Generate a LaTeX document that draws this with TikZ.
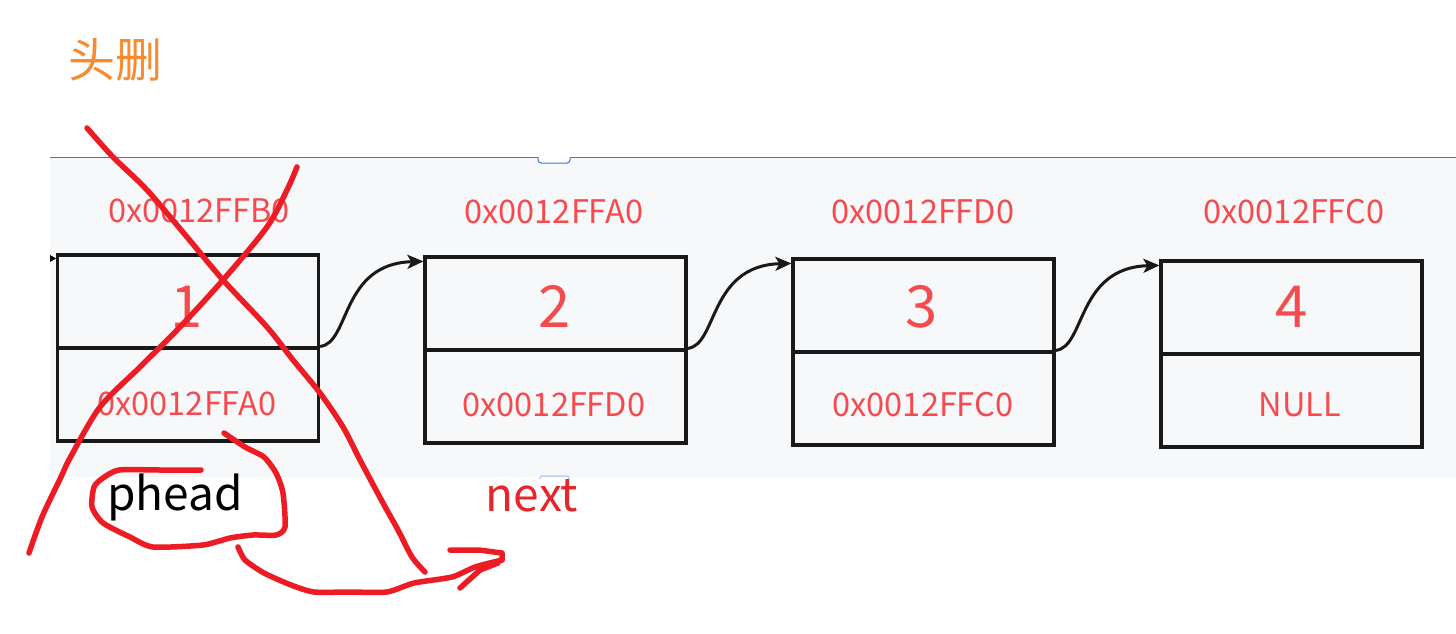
\documentclass[tikz,border=0pt]{standalone}
\usepackage{fontspec}
\setmainfont{Noto Sans CJK SC}
\usetikzlibrary{arrows.meta}
\definecolor{panelgray}{HTML}{F7F8FA}
\definecolor{uiblue}{HTML}{3D74E0}
\definecolor{addrred}{HTML}{F54B4E}
\definecolor{penred}{HTML}{ED1C24}
\definecolor{nextred}{HTML}{E5262B}
\definecolor{titleorange}{HTML}{F88A30}
\tikzset{
  cell/.style={draw=black!90, line width=3.2pt, minimum width=261pt, minimum height=93pt, inner sep=0pt},
  addr/.style={text=addrred, font=\fontsize{32.5}{38}\selectfont, anchor=base, inner sep=0pt},
  val/.style={text=addrred, font=\fontsize{58}{64}\selectfont, anchor=base, inner sep=0pt},
  conn/.style={draw=black!90, line width=3pt, -{Stealth[length=16pt,width=14pt,inset=4pt]}},
  redpen/.style={draw=penred, line width=5.5pt, line cap=round, line join=round},
}
\begin{document}
\begin{tikzpicture}[x=1pt,y=-1pt]
\useasboundingbox (0,0) rectangle (1456,634);
\fill[white] (0,0) rectangle (1456,634);
% panel
\fill[panelgray] (50,157) rectangle (1456,477);
\draw[uiblue, line width=1pt] (50,157) -- (1456,157);
\draw[uiblue, line width=1pt, fill=white, rounded corners=3pt] (538,157) -- (538,163) -- (570,163) -- (570,157);
\draw[uiblue!35, line width=1.5pt, rounded corners=2pt] (540,479) -- (540,476) -- (569,476) -- (569,479);
\fill[black] (50,255) -- (56,258.5) -- (50,262) -- cycle;

% title
\node[text=titleorange, font=\fontsize{47}{52}\selectfont, inner sep=0pt] (title) at (115,60) {头删};

% cells
\node[cell] (n1t) at (188,301.5) {};
\node[cell] (n1b) at (188,394.5) {};
\node[cell] (n2t) at (555.5,303.5) {};
\node[cell] (n2b) at (555.5,396.5) {};
\node[cell] (n3t) at (923.5,305.5) {};
\node[cell] (n3b) at (923.5,398.5) {};
\node[cell] (n4t) at (1291.5,307.5) {};
\node[cell] (n4b) at (1291.5,400.5) {};

% addresses above
\node[addr] (a1) at (199,222) {0x0012FFB0};
\node[addr] (a2) at (554,223) {0x0012FFA0};
\node[addr] (a3) at (923,223) {0x0012FFD0};
\node[addr] (a4) at (1294,223) {0x0012FFC0};

% values
\node[val] (v1) at (187,327) {1};
\node[val] (v2) at (555,327) {2};
\node[val] (v3) at (922,327) {3};
\node[val] (v4) at (1292,327) {4};

% next pointers
\node[addr] (p1) at (187,415) {0x0012FFA0};
\node[addr] (p2) at (554,416) {0x0012FFD0};
\node[addr] (p3) at (923,416) {0x0012FFC0};
\node[addr] (p4) at (1300,416) {NULL};

% connectors
\draw[conn] (n1b.north east) .. controls +(30,-3) and +(-83,2) .. ([yshift=-6pt]n2t.north west);
\draw[conn] (n2b.north east) .. controls +(30,-3) and +(-83,2) .. ([yshift=-6pt]n3t.north west);
\draw[conn] (n3b.north east) .. controls +(30,-3) and +(-83,2) .. ([yshift=-6pt]n4t.north west);

% labels below
\node[text=black, font=\fontsize{46}{52}\selectfont, anchor=base, inner sep=0pt] (phead) at (175,510) {phead};
\node[text=nextred, font=\fontsize{46}{52}\selectfont, anchor=base, inner sep=0pt] (next) at (532,511) {next};

% handwritten red strokes
\draw[redpen] plot[smooth, tension=0.5] coordinates {(87,128) (113,157) (147,190) (187,237) (223,280) (267,327) (293,360) (320,393) (343,427) (360,460) (383,503) (398,530) (412,557) (425,572)};
\draw[redpen] plot[smooth, tension=0.5] coordinates {(297,167) (287,190) (267,227) (223,280) (180,327) (140,367) (100,407) (70,458) (61,477) (42,517) (29,553)};
\draw[redpen] plot[smooth, tension=0.4] coordinates {(224,433) (245,447) (264,457) (276,473) (283,493) (285,527) (276,535) (253,535) (230,538) (203,545) (153,547) (130,537) (103,523) (92,507) (94,487) (103,478) (119,470) (160,470) (201,470)};
\draw[redpen] plot[smooth, tension=0.4] coordinates {(238,547) (245,560) (264,573) (291,585) (314,592) (350,592) (387,592) (414,583) (452,577) (475,567) (502,560)};
\draw[redpen] (502,560) -- (502,553) -- (479,550) -- (450,550);
\draw[redpen] (498,563) -- (480,570) -- (460,588);
\end{tikzpicture}
\end{document}
